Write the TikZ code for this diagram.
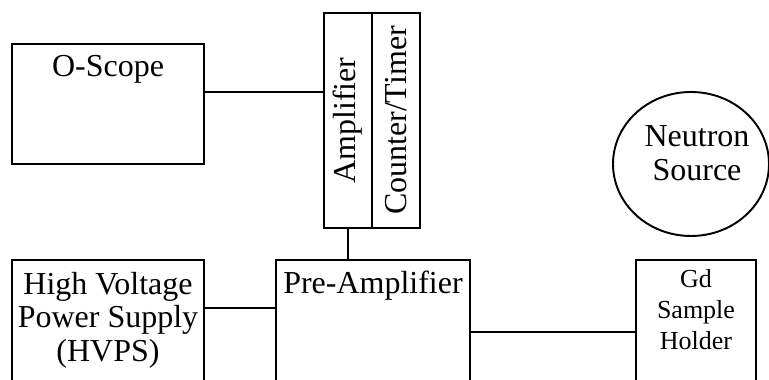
\documentclass[tikz,border=0pt]{standalone}
\usepackage{fontspec}
\setmainfont{Liberation Serif}
\usetikzlibrary{shapes.geometric}

\tikzstyle{block} = [rectangle, draw, line width=1.1pt, inner sep=0pt]
\tikzstyle{big} = [font=\fontsize{18.2}{19.2}\selectfont, align=center]
\tikzstyle{small} = [font=\fontsize{14.8}{17.6}\selectfont, align=center]

\begin{document}
\begin{tikzpicture}[line width=1.1pt]
\useasboundingbox (0,0) rectangle (15.38,7.6);
\clip (0,0) rectangle (15.38,7.6);
\node[block, minimum width=3.84cm, minimum height=2.4cm, xshift=2.16cm, yshift=5.52cm] (scope) {};
\node[block, minimum width=0.96cm, minimum height=4.3cm, xshift=6.96cm, yshift=5.19cm] (amp) {};
\node[block, minimum width=0.96cm, minimum height=4.3cm, xshift=7.92cm, yshift=5.19cm] (ctr) {};
\node[block, minimum width=3.84cm, minimum height=2.8cm, xshift=2.16cm, yshift=1cm] (hvps) {};
\node[block, minimum width=3.88cm, minimum height=2.8cm, xshift=7.46cm, yshift=1cm] (pre) {};
\node[block, minimum width=2.4cm, minimum height=2.8cm, xshift=13.92cm, yshift=1cm] (gd) {};
\node[draw, ellipse, inner sep=0pt, minimum width=3.12cm, minimum height=2.88cm, xshift=13.82cm, yshift=4.32cm] (src) {};
% texts
\node[big, anchor=north, yshift=-0.1cm] (scopetxt) at (scope.north) {O-Scope};
\node[big, rotate=90] (amptxt) at (amp) {Amplifier};
\node[big, rotate=90] (ctrtxt) at (ctr) {Counter/Timer};
\node[big, anchor=north, yshift=-0.12cm] (hvpstxt) at (hvps.north) {High Voltage\\Power Supply\\(HVPS)};
\node[big, anchor=north, yshift=-0.1cm] (pretxt) at (pre.north) {Pre-Amplifier};
\node[small, anchor=north, yshift=-0.07cm] (gdtxt) at (gd.north) {Gd\\Sample\\Holder};
\node[big] (srctxt) at ([xshift=0.12cm, yshift=0.22cm]src.center) {Neutron\\Source};
% wires
\draw ([yshift=0.24cm]scope.east) coordinate (s1) -- (s1 -| amp.west);
\draw (amp.south) -- (amp.south |- pre.north);
\draw ([yshift=0.44cm]hvps.east) coordinate (h1) -- (h1 -| pre.west);
\draw ([yshift=-0.04cm]pre.east) coordinate (p1) -- (p1 -| gd.west);
\end{tikzpicture}
\end{document}
